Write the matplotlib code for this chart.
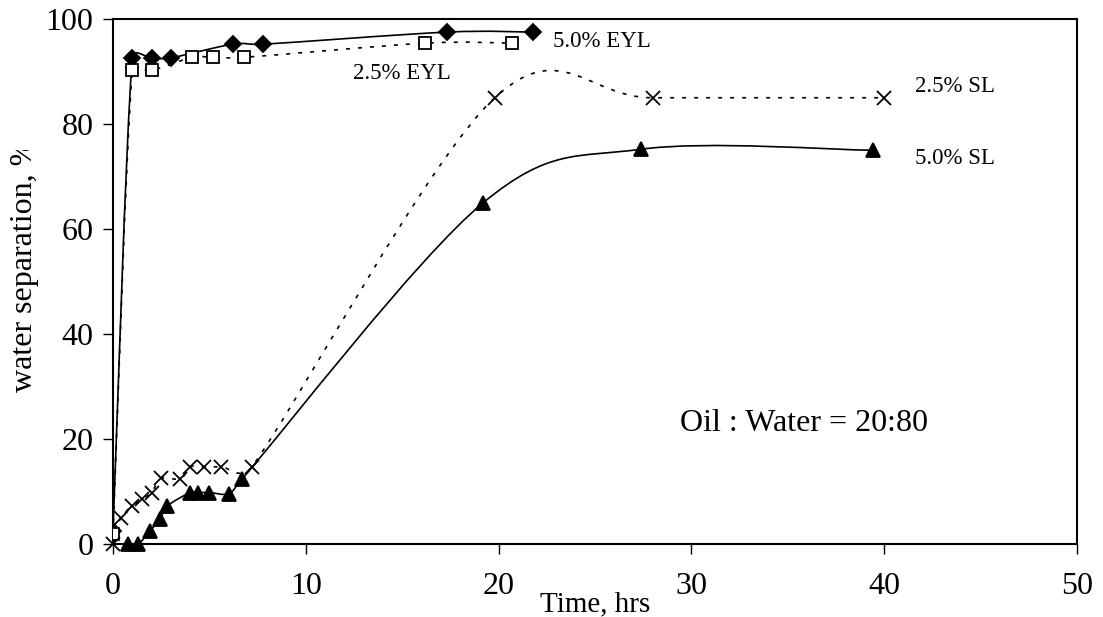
import math
import matplotlib
matplotlib.use("Agg")
import matplotlib.pyplot as plt
from matplotlib.path import Path
from matplotlib.patches import PathPatch
from matplotlib.transforms import Bbox, TransformedBbox

plt.rcParams['font.family'] = ['Liberation Serif', 'DejaVu Serif']

# separation vs time, oil:water 20:80
time_eyl50 = [0, 1.0, 2.0, 3.0, 6.2, 7.8, 17.3, 21.8]
sep_eyl50 = [2.5, 92.6, 92.6, 92.6, 95.2, 95.2, 97.5, 97.5]

time_eyl25 = [0, 1.0, 2.0, 4.1, 5.2, 6.8, 16.2, 20.7]
sep_eyl25 = [2.0, 90.2, 90.2, 92.7, 92.7, 92.7, 95.4, 95.4]

time_sl25 = [0, 0.4, 1.0, 1.5, 2.0, 2.5, 3.5, 4.0, 4.7, 5.6, 7.2, 19.8, 28.0, 40.0]
sep_sl25 = [0, 5.0, 7.2, 8.5, 9.8, 12.5, 12.4, 14.7, 14.7, 14.7, 14.7, 85.0, 85.0, 85.0]

time_sl50 = [0.8, 1.3, 1.9, 2.45, 2.8, 4.0, 4.4, 5.0, 6.0, 6.7, 19.2, 27.4, 39.4]
sep_sl50 = [0, 0, 2.4, 4.8, 7.2, 9.8, 9.8, 9.8, 9.6, 12.4, 65.0, 75.2, 75.0]

# pixels per data unit, used to measure segment lengths on screen
SX, SY = 964 / 50, 525 / 100


def _ctrl(vec, seg):
    # tangent offset of 1/6, but never longer than 0.6 of the segment
    dx, dy = vec[0] / 6, vec[1] / 6
    length = math.hypot(dx * SX, dy * SY)
    if length > 0.6 * seg:
        k = 0.6 * seg / length
        dx, dy = dx * k, dy * k
    return dx, dy


def smooth_path(xs, ys):
    # bezier through the points, like a spreadsheet "smoothed line"
    pts = list(zip(xs, ys))
    n = len(pts)
    verts = [pts[0]]
    codes = [Path.MOVETO]
    for i in range(n - 1):
        p0 = pts[max(i - 1, 0)]
        p1 = pts[i]
        p2 = pts[i + 1]
        p3 = pts[min(i + 2, n - 1)]
        seg = math.hypot((p2[0] - p1[0]) * SX, (p2[1] - p1[1]) * SY)
        d1 = _ctrl((p2[0] - p0[0], p2[1] - p0[1]), seg)
        d2 = _ctrl((p3[0] - p1[0], p3[1] - p1[1]), seg)
        verts += [(p1[0] + d1[0], p1[1] + d1[1]),
                  (p2[0] - d2[0], p2[1] - d2[1]), p2]
        codes += [Path.CURVE4] * 3
    return Path(verts, codes)


fig = plt.figure(figsize=(11.03, 6.17), dpi=100)
ax = fig.add_axes([113 / 1103, 1 - 544 / 617, 964 / 1103, 525 / 617])

dotted = (0, (2.4, 4.8))
series = [
    (time_eyl50, sep_eyl50, '-', 'D', 'black', 8.5, True),
    (time_eyl25, sep_eyl25, dotted, 's', 'white', 8.5, True),
    (time_sl25, sep_sl25, dotted, 'x', 'black', 10, False),
    (time_sl50, sep_sl50, '-', '^', 'black', 10, False),
]
for xs, ys, ls, mk, fc, ms, clip in series:
    ax.add_patch(PathPatch(smooth_path(xs, ys), facecolor='none',
                           edgecolor='black', lw=1.2, linestyle=ls))
    ax.plot(xs, ys, ls='none', marker=mk, ms=ms, mfc=fc, mec='black',
            mew=1.3, clip_on=clip, zorder=3)

ax.text(22.8, 95.7, '5.0% EYL', fontsize=16.5, va='center')
ax.text(12.45, 89.7, '2.5% EYL', fontsize=16.5, va='center')
ax.text(41.6, 87.1, '2.5% SL', fontsize=16.5, va='center')
ax.text(41.6, 73.5, '5.0% SL', fontsize=16.5, va='center')
ax.text(29.4, 23.0, 'Oil : Water = 20:80', fontsize=23, va='center')

ax.set_xlim(0, 50)
ax.set_ylim(0, 100)
ax.set_xticks(range(0, 51, 10))
ax.set_yticks(range(0, 101, 20))
ax.tick_params(direction='out', length=7, width=1, labelsize=23,
               top=False, right=False)
ax.tick_params(axis='x', pad=13)
ax.tick_params(axis='y', pad=7)
for sp in ax.spines.values():
    sp.set_linewidth(1.5)

ax.set_xlabel('Time, hrs', fontsize=21, labelpad=-7)
ylab = ax.set_ylabel('water separation, %', fontsize=23)
ax.yaxis.set_label_coords(-0.077, 0.53)
# the label box cuts the end of the text
ylab.set_clip_box(TransformedBbox(Bbox([[0, 0], [0.2, 1 - 150 / 617]]),
                                  fig.transFigure))
ylab.set_clip_on(True)

fig.savefig('out.png', dpi=100)
